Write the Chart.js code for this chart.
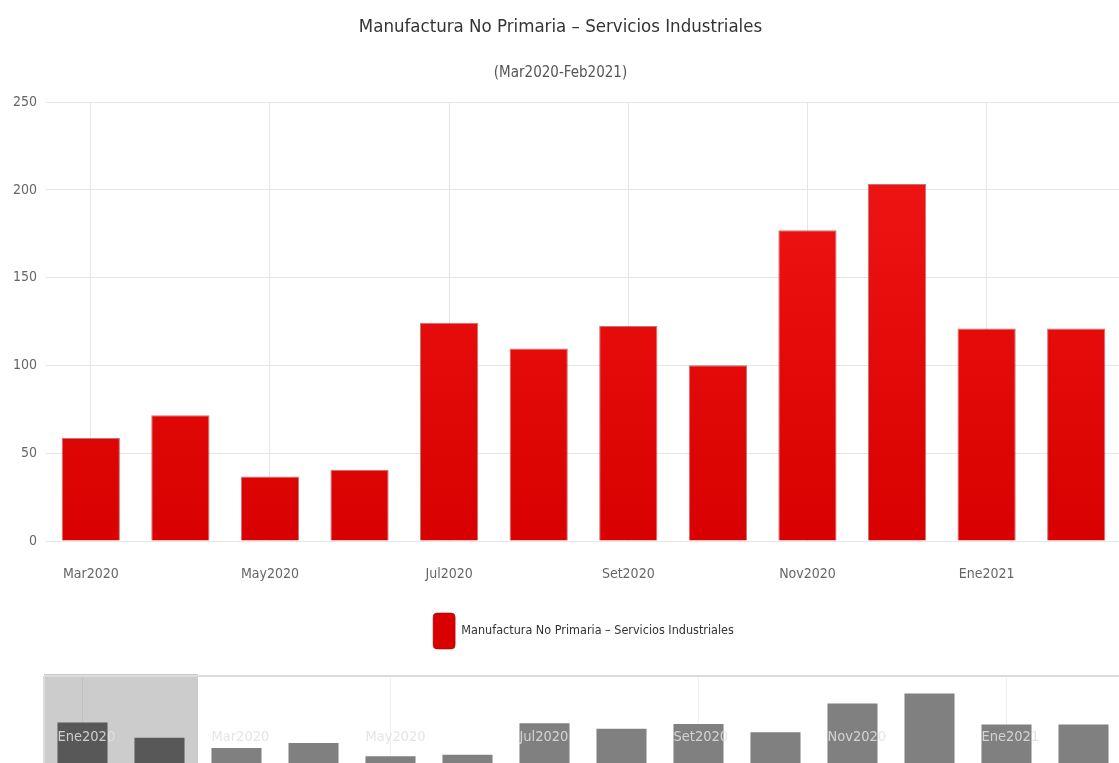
<!DOCTYPE html>
<html>
<head>
<meta charset="utf-8">
<title>Manufactura No Primaria - Servicios Industriales</title>
<script src="https://cdn.jsdelivr.net/npm/chart.js@4.4.0/dist/chart.umd.min.js"></script>
<style>
    html, body { margin: 0; padding: 0; background: #fff; overflow: hidden; }
    #main { position: absolute; left: 0; top: 0; width: 1121px; height: 666px; }
    #nav { position: absolute; left: 0; top: 666px; width: 1122px; height: 104px; }
</style>
</head>
<body>
<div id="main"><canvas id="chartjs-0"></canvas></div>
<div id="nav"><canvas id="chartjs-1"></canvas></div>

<script>
// months shown in the main chart
const months = ["Mar2020", "Abr2020", "May2020", "Jun2020", "Jul2020", "Ago2020",
                "Set2020", "Oct2020", "Nov2020", "Dic2020", "Ene2021", "Feb2021"];
// values
const values = [58.7, 71.6, 36.7, 40.6, 124.4, 109.7, 122.5, 100.2, 177, 203.4, 121.1, 121];

// the two months before, only visible in the navigator strip
const prevMonths = ["Ene2020", "Feb2020"];
const prevValues = [126, 86];

const yTicks = [0, 50, 100, 150, 200, 250];

const seriesName = "Manufactura No Primaria \u2013 Servicios Industriales";
const titleText = "Manufactura No Primaria \u2013 Servicios Industriales";
const subtitleText = "(Mar2020-Feb2021)";

Chart.defaults.font.family = '"Liberation Sans Narrow", "DejaVu Sans Condensed", sans-serif';
Chart.defaults.color = "#666";

/* red gradient for the bars */
function redFill(context) {
    let chart = context.chart;
    let area = chart.chartArea;
    if (!area) {
        return "#e00000";
    }
    let g = chart.ctx.createLinearGradient(0, area.top, 0, area.bottom);
    g.addColorStop(0, "#f41818");
    g.addColorStop(1, "#d80000");
    return g;
}

let ctx0 = document.getElementById("chartjs-0");
let myChart0 = new Chart(ctx0, {
    "type": "bar",
    "data": {
        "labels": months,
        "datasets": [{
            "label": seriesName,
            "data": values,
            "backgroundColor": redFill,
            "borderColor": "rgba(150,0,0,0.55)",
            "borderWidth": 1,
            "categoryPercentage": 1,
            "barPercentage": 0.65
        }]
    },
    "options": {
        responsive: true,
        maintainAspectRatio: false,
        animation: false,
        layout: { padding: { top: 0, left: 0, right: 0, bottom: 7 } },
        plugins: {
            title: {
                display: true,
                text: titleText,
                color: "#333",
                font: { size: 18.5, weight: "normal" },
                padding: { top: 16, bottom: 14 }
            },
            subtitle: {
                display: true,
                text: subtitleText,
                color: "#555",
                font: { size: 15 },
                padding: { top: 12, bottom: 20 }
            },
            legend: {
                position: "bottom",
                fullSize: false,
                labels: {
                    color: "#333",
                    font: { size: 12.5 },
                    boxWidth: 22,
                    boxHeight: 36,
                    useBorderRadius: true,
                    borderRadius: 4,
                    padding: 10
                }
            },
            tooltip: { enabled: false }
        },
        scales: {
            x: {
                grid: {
                    offset: false,
                    drawTicks: false,
                    color: function(c) { return c.index % 2 === 0 ? "#e6e6e6" : "rgba(0,0,0,0)"; }
                },
                border: { display: false },
                ticks: {
                    autoSkip: false,
                    maxRotation: 0,
                    padding: 25,
                    font: { size: 14 },
                    callback: function(val, i) { return i % 2 === 0 ? months[i] : ""; }
                },
                afterFit: function(scale) { scale.height = 62; }
            },
            y: {
                min: yTicks[0],
                max: yTicks[yTicks.length - 1],
                afterBuildTicks: function(scale) {
                    scale.ticks = yTicks.map(function(v) { return { value: v }; });
                },
                grid: { drawTicks: false, color: "#e6e6e6" },
                border: { display: false },
                ticks: { padding: 9, font: { size: 14 } },
                afterFit: function(scale) { scale.width = 46; }
            }
        }
    }
});

/* navigator strip: shaded range, border lines and month labels */
const navExtras = {
    id: "navExtras",
    beforeDatasetsDraw(chart) {
        let c = chart.ctx;
        let area = chart.chartArea;
        let x = chart.scales.x;
        let edge = (x.getPixelForValue(prevMonths.length - 1) + x.getPixelForValue(prevMonths.length)) / 2;
        c.save();
        c.fillStyle = "rgba(0,0,0,0.2)";
        c.fillRect(area.left, area.top - 2, edge - area.left, area.bottom - area.top + 2);
        c.strokeStyle = "#dcdcdc";
        c.lineWidth = 2;
        c.beginPath();
        c.moveTo(area.left, area.top);
        c.lineTo(chart.width, area.top);
        c.moveTo(area.left, area.top);
        c.lineTo(area.left, area.bottom);
        c.stroke();
        c.restore();
    },
    afterDatasetsDraw(chart) {
        let c = chart.ctx;
        let area = chart.chartArea;
        let meta = chart.getDatasetMeta(0);
        let labels = chart.data.labels;
        c.save();
        c.font = '14.5px "Liberation Sans Narrow", "DejaVu Sans Condensed", sans-serif';
        c.fillStyle = "rgba(225,225,225,0.85)";
        c.textBaseline = "middle";
        c.textAlign = "left";
        for (let i = 0; i < labels.length; i += 2) {
            let bar = meta.data[i];
            c.fillText(labels[i], bar.x - bar.width / 2, area.top + 61);
        }
        c.restore();
    }
};

let navLabels = prevMonths.concat(months);
let navValues = prevValues.concat(values);

let ctx1 = document.getElementById("chartjs-1");
let myChart1 = new Chart(ctx1, {
    "type": "bar",
    "data": {
        "labels": navLabels,
        "datasets": [{
            "data": navValues,
            "backgroundColor": function(c) { return c.dataIndex < prevMonths.length ? "#585858" : "#808080"; },
            "categoryPercentage": 1,
            "barPercentage": 0.65
        }]
    },
    "options": {
        responsive: true,
        maintainAspectRatio: false,
        animation: false,
        layout: { padding: { top: 10, left: 44, right: 0, bottom: 0 } },
        plugins: { legend: { display: false }, tooltip: { enabled: false } },
        scales: {
            x: {
                grid: {
                    offset: false,
                    drawTicks: false,
                    color: function(c) { return c.index % 4 === 0 ? "#f0f0f0" : "rgba(0,0,0,0)"; }
                },
                border: { display: false },
                ticks: { display: false },
                afterFit: function(scale) { scale.height = 0; }
            },
            y: { display: false, min: 0, max: 250 }
        }
    },
    plugins: [navExtras]
});
</script>
</body>
</html>
